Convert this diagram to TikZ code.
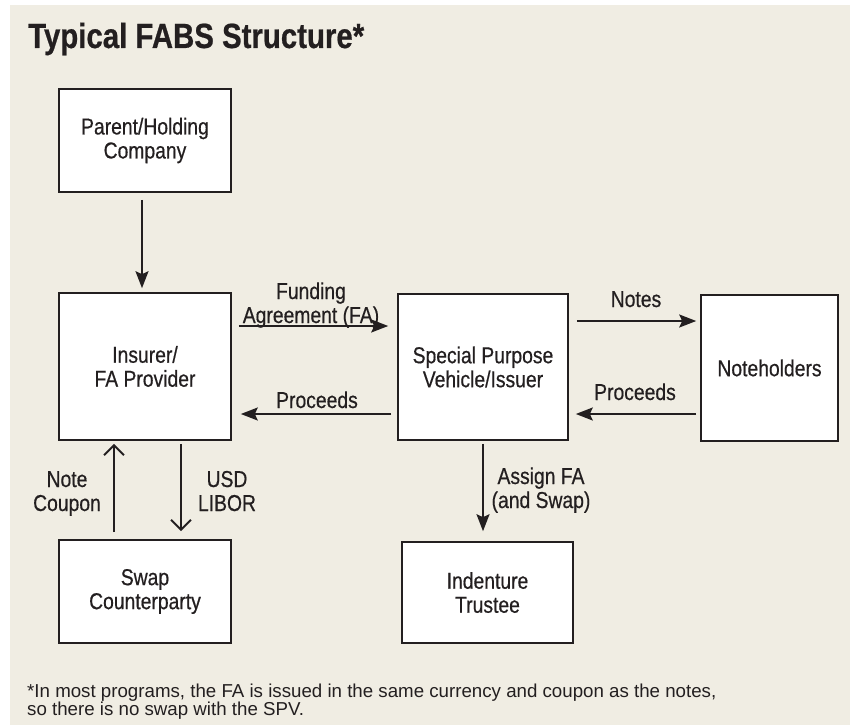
\documentclass[tikz,border=0pt]{standalone}
\usepackage{fontspec}
\setmainfont{Liberation Sans}[FakeStretch=0.84,FakeBold=0.5]
\newfontfamily\titlefont{Liberation Sans Bold}[FakeStretch=0.84,FakeBold=0.6]
\newfontfamily\notefont{Liberation Sans}
\usetikzlibrary{arrows.meta,calc}
\definecolor{bgc}{RGB}{240,237,227}
\definecolor{ink}{RGB}{35,31,32}
\tikzset{
  box/.style={draw=ink, line width=1.6pt, fill=white, inner sep=0pt, align=center,
    font=\fontsize{23}{24}\selectfont, text=ink},
  lbl/.style={inner sep=0pt, align=center, font=\fontsize{23}{24}\selectfont, text=ink},
  fa/.style={draw=ink, line width=2pt, -{Stealth[length=17pt,width=13pt,inset=3pt]}},
  oa/.style={draw=ink, line width=2pt, -{Straight Barb[length=10pt,width=20pt,line width=2pt]}}
}
\begin{document}
\begin{tikzpicture}[x=1pt,y=-1pt]
\useasboundingbox (0,0) rectangle (850,725);
\fill[bgc] (10,5) rectangle (850,725);
\node[anchor=base west, inner sep=0pt, text=ink, font=\titlefont\fontsize{35}{40}\selectfont] (title) at (28,48) {Typical FABS Structure*};

\node[box, minimum width=172pt, minimum height=103pt] (parent) at (145,140.5) {Parent/Holding\\Company};
\node[box, minimum width=172pt, minimum height=147pt] (insurer) at (145,366.5) {Insurer/\\FA Provider};
\node[box, minimum width=172pt, minimum height=103pt] (swap) at (145,591.5) {Swap\\Counterparty};
\node[box, minimum width=170pt, minimum height=146pt] (spv) at (483,367) {Special Purpose\\Vehicle/Issuer};
\node[box, minimum width=137pt, minimum height=146pt] (notes) at (769.5,368) {Noteholders};
\node[box, minimum width=171pt, minimum height=101pt] (trustee) at (487.5,592.5) {Indenture\\Trustee};

\draw[fa] ([yshift=-7pt]parent.south -| 142,0) -- ([yshift=4pt]insurer.north -| 142,0);
\draw[fa] ([xshift=7pt,yshift=40.5pt]insurer.east) -- ([xshift=-9pt,yshift=41pt]spv.west);
\draw[fa] ([xshift=-6pt,yshift=-47pt]spv.west) -- ([xshift=9pt,yshift=-47.5pt]insurer.east);
\draw[fa] ([xshift=8pt,yshift=46pt]spv.east) -- ([xshift=-4pt,yshift=47pt]notes.west);
\draw[fa] ([xshift=-4pt,yshift=-46pt]notes.west) -- ([xshift=7pt,yshift=-47pt]spv.east);
\draw[oa] ([xshift=-31pt,yshift=7pt]swap.north) -- ([xshift=-31pt,yshift=-3pt]insurer.south);
\draw[oa] ([xshift=36pt,yshift=-3pt]insurer.south) -- ([xshift=36pt,yshift=8pt]swap.north);
\draw[fa] ([yshift=-3pt]spv.south) -- ([yshift=10pt]spv.south |- trustee.north);

\node[lbl, anchor=base] (lfund) at (311,323) {Funding\\Agreement (FA)};
\node[lbl, anchor=base] (lproc1) at (317,408) {Proceeds};
\node[lbl, anchor=base] (lnotes) at (636,307) {Notes};
\node[lbl, anchor=base] (lproc2) at (635,400) {Proceeds};
\node[lbl, anchor=base] (lcoupon) at (67,511) {Note\\Coupon};
\node[lbl, anchor=base] (llibor) at (227,511) {USD\\LIBOR};
\node[lbl, anchor=base] (lassign) at (541,508) {Assign FA\\(and Swap)};

\node[anchor=base west, inner sep=0pt, align=left, text=ink, font=\notefont\fontsize{18.7}{18}\selectfont] (foot) at (27,715) {*In most programs, the FA is issued in the same currency and coupon as the notes,\\so there is no swap with the SPV.};
\end{tikzpicture}
\end{document}
